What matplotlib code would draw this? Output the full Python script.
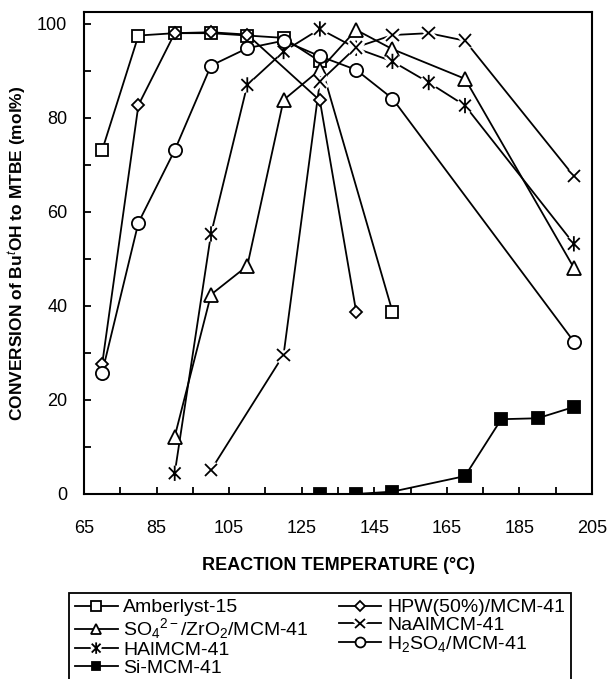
import numpy as np
import matplotlib
matplotlib.use('Agg')
import matplotlib.pyplot as plt
from matplotlib.path import Path
from matplotlib.legend_handler import HandlerTuple
import matplotlib.patheffects as pe

plt.rcParams['font.family'] = ['Liberation Sans', 'DejaVu Sans']
plt.rcParams['mathtext.fontset'] = 'custom'
plt.rcParams['mathtext.rm'] = 'Liberation Sans'
plt.rcParams['mathtext.it'] = 'Liberation Sans:italic'
plt.rcParams['mathtext.bf'] = 'Liberation Sans:bold'

# reaction temperature (C) and conversion (mol%) for each catalyst
amb_t = [70, 80, 90, 100, 110, 120, 130, 150]
amb = [73.1, 97.5, 98.0, 98.0, 97.5, 97.0, 92.0, 38.8]

hpw_t = [70, 80, 90, 100, 110, 130, 140]
hpw = [27.6, 82.7, 98.0, 98.2, 97.7, 83.7, 38.8]

so4_t = [90, 100, 110, 120, 130, 140, 150, 170, 200]
so4 = [12.2, 42.4, 48.5, 83.8, 90.2, 98.7, 94.6, 88.3, 48.1]

naal_t = [100, 120, 130, 140, 150, 160, 170, 200]
naal = [5.1, 29.6, 87.7, 95.0, 97.6, 98.0, 96.4, 67.6]

hal_t = [90, 100, 110, 120, 130, 140, 150, 160, 170, 200]
hal = [4.4, 55.3, 87.0, 94.1, 98.9, 94.8, 92.0, 87.5, 82.6, 53.2]

h2so4_t = [70, 80, 90, 100, 110, 120, 130, 140, 150, 200]
h2so4 = [25.8, 57.7, 73.1, 91.1, 94.8, 96.4, 93.1, 90.2, 84.1, 32.4]

si_t = [130, 140, 150, 170, 180, 190, 200]
si = [0.0, 0.0, 0.5, 3.8, 15.9, 16.1, 18.5]

# asterisk marker: an x with a vertical bar
star = Path([(-1, -1), (1, 1), (-1, 1), (1, -1), (0, -1.3), (0, 1.3)],
            [Path.MOVETO, Path.LINETO, Path.MOVETO, Path.LINETO, Path.MOVETO, Path.LINETO])

fig = plt.figure(figsize=(6.1, 6.79), dpi=100)
ax = fig.add_axes([0.1377, 0.2725, 0.8328, 0.7098])

lw = 1.3
halo = [pe.Stroke(linewidth=5, foreground='white'), pe.Normal()]

def series(t, v, marker, ms, fill='white', gap=False, label=''):
    ln, = ax.plot(t, v, '-', color='black', lw=lw, zorder=2)
    mk, = ax.plot(t, v, linestyle='none', marker=marker, ms=ms, mfc=fill,
                  mec='black', mew=lw, zorder=3)
    if gap:
        mk.set_path_effects(halo)
    return (ln, mk), label

handles = []
handles.append(series(amb_t, amb, 's', 9, label='Amberlyst-15'))
handles.append(series(so4_t, so4, '^', 9.5, label=r'SO$_4$$^{2-}$/ZrO$_2$/MCM-41'))
handles.append(series(hal_t, hal, star, 11, gap=True, label='HAlMCM-41'))
handles.append(series(si_t, si, 's', 8, fill='black', label='Si-MCM-41'))
handles.append(series(hpw_t, hpw, 'D', 6.5, label='HPW(50%)/MCM-41'))
handles.append(series(naal_t, naal, 'x', 9, gap=True, label='NaAlMCM-41'))
handles.append(series(h2so4_t, h2so4, 'o', 9.5, label=r'H$_2$SO$_4$/MCM-41'))

ax.set_xlim(65, 205)
ax.set_ylim(0, 102.5)
ax.set_xticks(np.arange(65, 206, 20))
ax.set_xticks(np.arange(75, 206, 20), minor=True)
ax.set_yticks(np.arange(0, 101, 20))
ax.set_yticks(np.arange(10, 101, 20), minor=True)
ax.tick_params(which='both', direction='in', length=5, width=1.3, labelsize=13,
               top=False, right=False)
ax.tick_params(axis='x', pad=19)
ax.tick_params(axis='y', pad=12)
for s in ax.spines.values():
    s.set_linewidth(1.5)

ax.set_xlabel('REACTION TEMPERATURE (°C)', fontsize=13, fontweight='bold', labelpad=14)
ax.set_ylabel(r'CONVERSION of Bu$^{\mathit{t}}$OH to MTBE (mol%)', fontsize=12.5,
              fontweight='bold', labelpad=6)

leg = fig.legend([h for h, l in handles], [l for h, l in handles],
                 handler_map={tuple: HandlerTuple(ndivide=1)},
                 loc='upper left', bbox_to_anchor=(0.113, -0.2, 0.823, 0.3267),
                 mode='expand', ncol=2, fontsize=14, frameon=True, fancybox=False,
                 edgecolor='black', framealpha=1, handlelength=2.2, handletextpad=0.3,
                 labelspacing=0.0, borderpad=0.3, markerscale=0.75, borderaxespad=0)
leg.get_frame().set_linewidth(1.3)

fig.savefig('out.png', dpi=100)
